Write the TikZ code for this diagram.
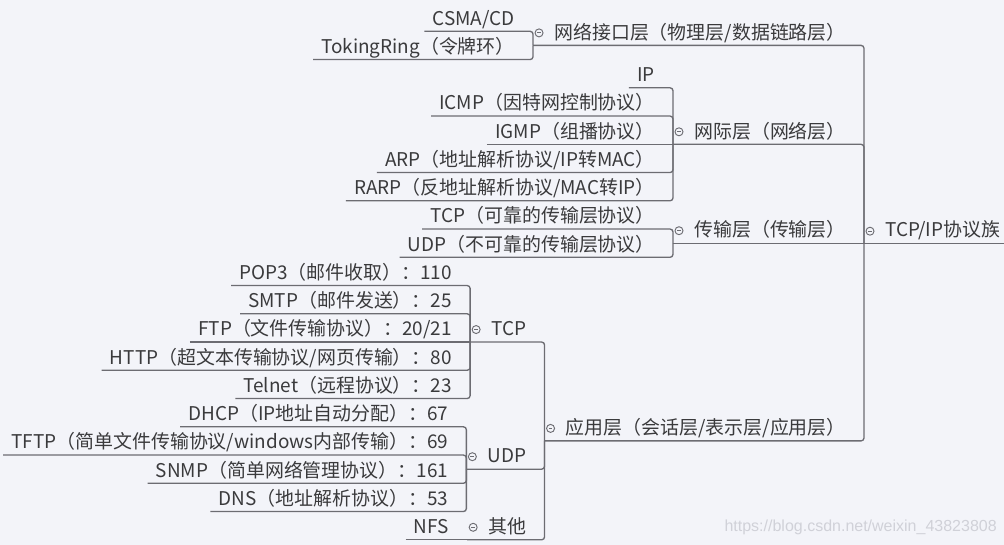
\documentclass[tikz,border=0pt]{standalone}
\usepackage{fontspec}
\setmainfont{Noto Sans CJK SC}
\newfontfamily\wmfont{Liberation Sans}
\usetikzlibrary{calc}
\definecolor{bgc}{RGB}{243,244,249}
\definecolor{linec}{RGB}{108,108,114}
\definecolor{textc}{RGB}{58,58,60}
\definecolor{wmc}{RGB}{208,209,216}
\begin{document}
\begin{tikzpicture}[x=0.75pt,y=-0.75pt,
  lbl/.style={inner xsep=6pt, inner ysep=1.5pt, text height=10.5pt, text depth=3pt,
    font=\fontsize{14.2pt}{16pt}\selectfont, text=textc, anchor=south east},
  conn/.style={draw=linec, line width=1pt, rounded corners=2.2pt},
  fold/.style={circle, draw=linec, line width=0.7pt, minimum size=6pt, inner sep=0pt,
    path picture={\draw[linec, line width=0.6pt]
      ([xshift=-1.4pt]path picture bounding box.center) --
      ([xshift=1.4pt]path picture bounding box.center);}}
]
\fill[bgc] (0,0) rectangle (1004,545);
\useasboundingbox (0,0) rectangle (1004,545);

% root
\coordinate (Rj) at (864,243.2);
\node[lbl, anchor=south west] (R) at ($(Rj)+(13,0)$) {TCP/IP协议族};
\node[fold] (Rc) at ($(Rj)+(6,-12)$) {};
\draw[conn] (Rj) -- (R.south east);

% A
\node[lbl] (A) at (854,45.4) {网络接口层（物理层/数据链路层）};
\coordinate (Aj) at ($(A.south west)+(-13,0)$);
\coordinate (Ak) at ($(Aj)+(-10,0)$);
\node[fold] (Ac) at ($(Aj)+(6,-12.5)$) {};
\draw[conn] (Aj) -| (Rj);
\node[lbl] (A1) at (Ak |- 0,31.3) {CSMA/CD};
\node[lbl] (A2) at (Ak |- 0,59.55) {TokingRing（令牌环）};
\draw[conn] (A1.south west) -| (Aj);
\draw[conn] (A2.south west) -| (Aj);

% B
\node[lbl] (B) at (854,144.3) {网际层（网络层）};
\coordinate (Bj) at ($(B.south west)+(-13,0)$);
\coordinate (Bk) at ($(Bj)+(-10,0)$);
\node[fold] (Bc) at ($(Bj)+(6,-12.5)$) {};
\draw[conn] (Bj) -| (Rj);
\node[lbl] (B1) at (Bk |- 0,87.8) {IP};
\node[lbl] (B2) at (Bk |- 0,116.05) {ICMP（因特网控制协议）};
\node[lbl] (B3) at (Bk |- 0,144.3) {IGMP（组播协议）};
\node[lbl] (B4) at (Bk |- 0,172.55) {ARP（地址解析协议/IP转MAC）};
\node[lbl] (B5) at (Bk |- 0,200.8) {RARP（反地址解析协议/MAC转IP）};
\draw[conn] (B1.south west) -| (Bj);
\draw[conn] (B2.south west) -| (Bj);
\draw[conn] (B3.south west) -- (Bj);
\draw[conn] (B4.south west) -| (Bj);
\draw[conn] (B5.south west) -| (Bj);

% C
\node[lbl] (C) at (854,243.2) {传输层（传输层）};
\coordinate (Cj) at ($(C.south west)+(-13,0)$);
\coordinate (Ck) at ($(Cj)+(-10,0)$);
\node[fold] (Cc) at ($(Cj)+(6,-12.5)$) {};
\draw[conn] (Cj) -- (Rj);
\node[lbl] (C1) at (Ck |- 0,229.05) {TCP（可靠的传输层协议）};
\node[lbl] (C2) at (Ck |- 0,257.3) {UDP（不可靠的传输层协议）};
\draw[conn] (C1.south west) -| (Cj);
\draw[conn] (C2.south west) -| (Cj);

% D
\node[lbl] (D) at (854,440.9) {应用层（会话层/表示层/应用层）};
\coordinate (Dj) at ($(D.south west)+(-13,0)$);
\coordinate (Dk) at ($(Dj)+(-10,0)$);
\node[fold] (Dc) at ($(Dj)+(6,-12.5)$) {};
\draw[conn] (Dj) -| (Rj);

% D1 TCP
\node[lbl] (D1) at (Dk |- 0,342.05) {TCP};
\coordinate (D1j) at ($(D1.south west)+(-13,0)$);
\coordinate (D1k) at ($(D1j)+(-10,0)$);
\node[fold] (D1c) at ($(D1j)+(6,-12.5)$) {};
\draw[conn] (D1j) -| (Dj);
\node[lbl] (T1) at (D1k |- 0,285.55) {POP3（邮件收取）：110};
\node[lbl] (T2) at (D1k |- 0,313.8) {SMTP（邮件发送）：25};
\node[lbl] (T3) at (D1k |- 0,342.05) {FTP（文件传输协议）：20/21};
\node[lbl] (T4) at (D1k |- 0,370.3) {HTTP（超文本传输协议/网页传输）：80};
\node[lbl] (T5) at (D1k |- 0,398.55) {Telnet（远程协议）：23};
\draw[conn] (T1.south west) -| (D1j);
\draw[conn] (T2.south west) -| (D1j);
\draw[conn] (T3.south west) -- (D1j);
\draw[conn] (T4.south west) -| (D1j);
\draw[conn] (T5.south west) -| (D1j);

% D2 UDP
\node[lbl] (D2) at (Dk |- 0,469.2) {UDP};
\coordinate (D2j) at ($(D2.south west)+(-13,0)$);
\coordinate (D2k) at ($(D2j)+(-10,0)$);
\node[fold] (D2c) at ($(D2j)+(6,-12.5)$) {};
\draw[conn] (D2j) -| (Dj);
\node[lbl] (U1) at (D2k |- 0,426.8) {DHCP（IP地址自动分配）：67};
\node[lbl] (U2) at (D2k |- 0,455.05) {TFTP（简单文件传输协议/windows内部传输）：69};
\node[lbl] (U3) at (D2k |- 0,483.3) {SNMP（简单网络管理协议）：161};
\node[lbl] (U4) at (D2k |- 0,511.55) {DNS（地址解析协议）：53};
\draw[conn] (U1.south west) -| (D2j);
\draw[conn] (U2.south west) -| (D2j);
\draw[conn] (U3.south west) -| (D2j);
\draw[conn] (U4.south west) -| (D2j);

% D3 other
\node[lbl] (D3) at (Dk |- 0,539.8) {其他};
\coordinate (D3j) at ($(D3.south west)+(-13,0)$);
\coordinate (D3k) at ($(D3j)+(-10,0)$);
\node[fold] (D3c) at ($(D3j)+(6,-12.5)$) {};
\draw[conn] (D3j) -| (Dj);
\node[lbl] (N1) at (D3k |- 0,539.8) {NFS};
\draw[conn] (N1.south west) -- (D3j);

% watermark
\node[anchor=east, inner sep=0pt, text=wmc, font=\wmfont\fontsize{12pt}{14pt}\selectfont] (wm) at (997,527) {https://blog.csdn.net/weixin\_43823808};
\end{tikzpicture}
\end{document}
